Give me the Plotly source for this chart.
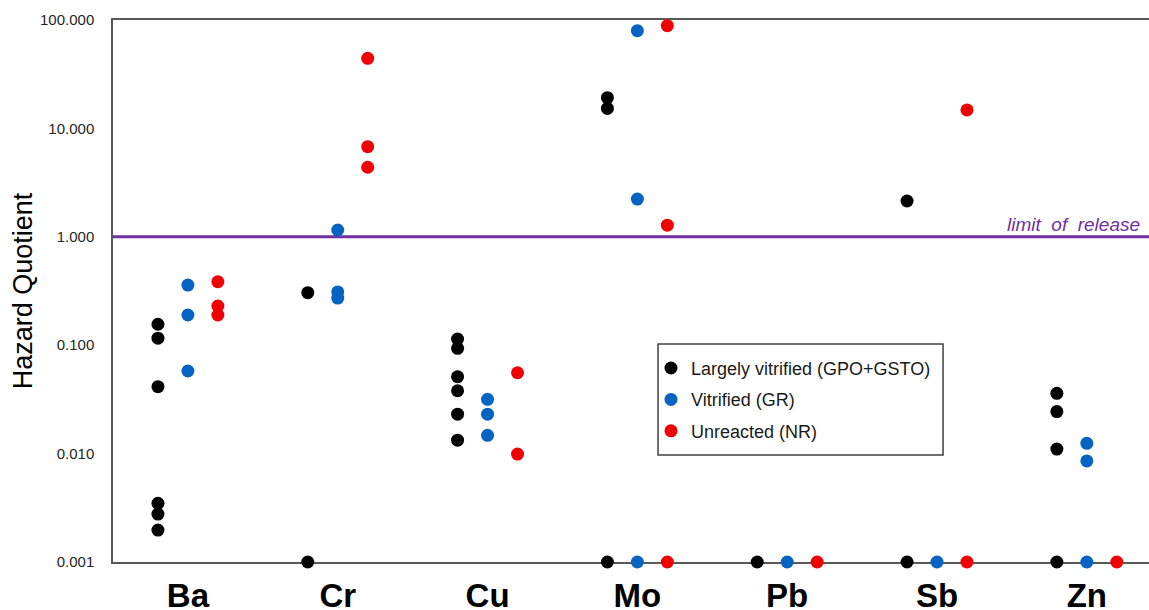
import plotly.graph_objects as go

categories = ["Ba", "Cr", "Cu", "Mo", "Pb", "Sb", "Zn"]

largely_vitrified = [
    [0.156, 0.116, 0.0414, 0.00348, 0.00277, 0.00197],   # Ba
    [0.305, 0.001],                                      # Cr
    [0.114, 0.0936, 0.0512, 0.0380, 0.0231, 0.0133],     # Cu
    [19.2, 15.3, 0.001],                                 # Mo
    [0.001],                                             # Pb
    [2.14, 0.001],                                       # Sb
    [0.0360, 0.0244, 0.0110, 0.001],                     # Zn
]
vitrified = [
    [0.359, 0.190, 0.0578],
    [1.156, 0.31, 0.272],
    [0.0317, 0.0231, 0.01475],
    [79.7, 2.23, 0.001],
    [0.001],
    [0.001],
    [0.01245, 0.00855, 0.001],
]
unreacted = [
    [0.385, 0.230, 0.190],
    [44.3, 6.78, 4.38],
    [0.0557, 0.0099],
    [88.6, 1.28, 0.001],
    [0.001],
    [14.8, 0.001],
    [0.001],
]

series_names = ["Largely vitrified (GPO+GSTO)", "Vitrified (GR)", "Unreacted (NR)"]
series_data = [largely_vitrified, vitrified, unreacted]
series_colors = ["#000000", "#0563C1", "#F00000"]
series_offsets = [-0.2, 0.0, 0.2]

limit_of_release = 1.0

FONT = "Arial, Liberation Sans, sans-serif"

fig = go.Figure()
for i, (name, data, color, off) in enumerate(zip(series_names, series_data, series_colors, series_offsets)):
    xs, ys = [], []
    for ci, vals in enumerate(data):
        for v in vals:
            xs.append(ci + off)
            ys.append(v)
    fig.add_trace(go.Scatter(
        x=xs, y=ys, mode="markers", name=name,
        marker=dict(color=color, size=13, line=dict(width=0)),
        cliponaxis=False, legendgroup=f"g{i}",
    ))

fig.add_shape(type="line", xref="paper", x0=0, x1=1, yref="y",
              y0=limit_of_release, y1=limit_of_release,
              line=dict(color="#7030A0", width=3), layer="below")
# legend frame
fig.add_shape(type="rect", xref="paper", yref="paper",
              x0=0.5261, x1=0.8012, y0=0.1974, y1=0.4022,
              line=dict(color="#404040", width=1.5), fillcolor="white", layer="below")
fig.add_annotation(xref="paper", x=0.9935, yref="y", y=0,
                   text="limit  of  release", showarrow=False,
                   xanchor="right", yanchor="bottom", yshift=0,
                   font=dict(family=FONT, size=19, color="#7030A0", style="italic"))

fig.update_layout(
    width=1149, height=610,
    margin=dict(l=113, r=0, t=20, b=48, autoexpand=False),
    paper_bgcolor="white", plot_bgcolor="white",
    font=dict(family=FONT, color="#000000"),
    showlegend=True,
    legend=dict(
        x=0.5193, y=0.3915, xanchor="left", yanchor="top",
        borderwidth=0, bgcolor="rgba(0,0,0,0)",
        font=dict(size=18, color="#1a1a1a"),
        tracegroupgap=5, traceorder="grouped",
    ),
    xaxis=dict(
        range=[-0.5, 6.415], tickmode="array",
        tickvals=list(range(len(categories))), ticktext=categories,
        tickfont=dict(size=33, color="#000000", family=FONT, weight="bold"),
        showgrid=False, zeroline=False, automargin=False,
        showline=True, linecolor="#595959", linewidth=1.5, mirror=True,
        ticks="", ticklabelstandoff=4, layer="below traces",
    ),
    yaxis=dict(
        type="log", range=[-3, 2],
        tickvals=[0.001, 0.01, 0.1, 1, 10, 100],
        ticktext=["0.001", "0.010", "0.100", "1.000", "10.000", "100.000"],
        tickfont=dict(size=15, color="#262626"),
        showgrid=False, zeroline=False, automargin=False,
        showline=True, linecolor="#595959", linewidth=1.5,
        ticks="", ticklabelstandoff=14,
        title=dict(text="Hazard Quotient", font=dict(size=27, color="#000000"), standoff=0),
        layer="below traces",
    ),
)

fig.write_html(
    "out.html",
    config={"displayModeBar": False},
    post_script="document.body.style.margin='0px';document.body.style.overflow='hidden';",
)
